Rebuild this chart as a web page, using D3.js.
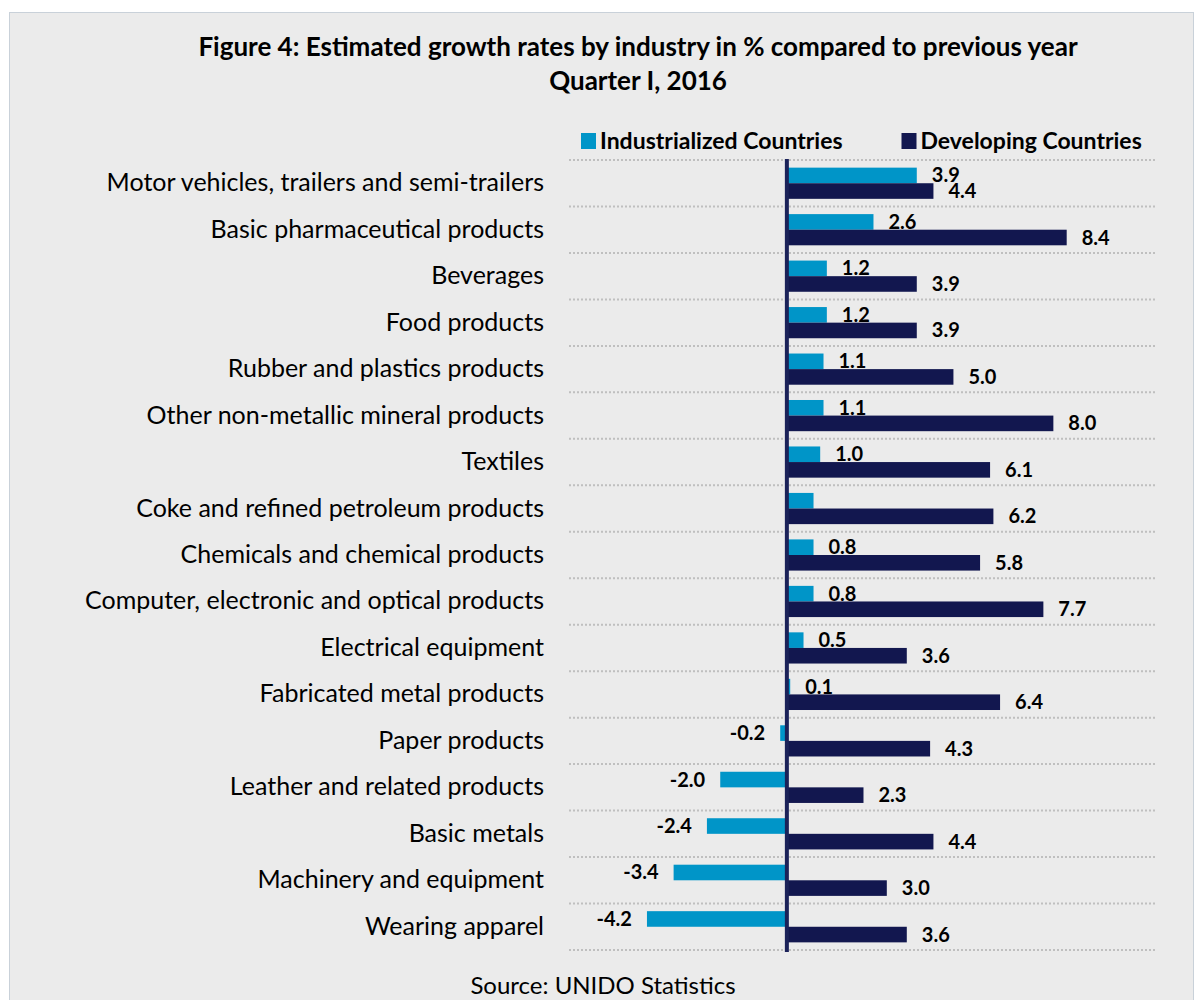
<!DOCTYPE html>
<html>
<head>
<meta charset="utf-8">
<script src="https://cdn.jsdelivr.net/npm/d3@7"></script>
<style>
    body { margin: 0; background: #ffffff; }
</style>
</head>
<body>
<div id="chart"></div>
<script>
let font = "Lato"

// Branchen von oben nach unten
let kategorien = [
    "Motor vehicles, trailers and semi-trailers",
    "Basic pharmaceutical products",
    "Beverages",
    "Food products",
    "Rubber and plastics products",
    "Other non-metallic mineral products",
    "Textiles",
    "Coke and refined petroleum products",
    "Chemicals and chemical products",
    "Computer, electronic and optical products",
    "Electrical equipment",
    "Fabricated metal products",
    "Paper products",
    "Leather and related products",
    "Basic metals",
    "Machinery and equipment ",
    "Wearing apparel"
];

let industrialisiert = [3.9, 2.6, 1.2, 1.2, 1.1, 1.1, 1.0, 0.8, 0.8, 0.8, 0.5, 0.1, -0.2, -2.0, -2.4, -3.4, -4.2];
let entwicklung = [4.4, 8.4, 3.9, 3.9, 5.0, 8.0, 6.1, 6.2, 5.8, 7.7, 3.6, 6.4, 4.3, 2.3, 4.4, 3.0, 3.6];

// im Original fehlt das Label bei Coke (Industrialized)
let ohneLabel = ["Coke and refined petroleum products"];

let serien = ["Industrialized Countries", "Developing Countries"];
let farben = ["#0095c8", "#12174f"];

let titel = [
    "Figure 4: Estimated growth rates by industry in % compared to previous year",
    "Quarter I, 2016"
];
let quelle = "Source: UNIDO Statistics";

function zeichne() {
    let breite = 1203, hoehe = 1000;

    let svg = d3.select("#chart").append("svg")
        .attr("width", breite)
        .attr("height", hoehe);

    // Hintergrund + Rahmen
    svg.append("rect")
        .attr("x", 9.5).attr("y", 12.5)
        .attr("width", 1184).attr("height", 1000)
        .attr("fill", "#ebebeb")
        .attr("stroke", "#c9d1d9")
        .attr("stroke-width", 1);

    // Titel
    svg.selectAll(".titel").data(titel).enter().append("text")
        .attr("class", "titel")
        .attr("x", 638)
        .attr("y", function (d, i) { return 56 + i * 34; })
        .attr("text-anchor", "middle")
        .attr("font-family", font)
        .attr("font-weight", "bold")
        .attr("font-size", "26px")
        .attr("fill", "#000")
        .text(function (d) { return d; });

    // Skalen
    var x = d3.scaleLinear()
        .domain([-6, 11])
        .range([587, 1153.3]);

    var y = d3.scaleBand()
        .domain(kategorien)
        .range([160, 950])
        .padding(0);

    var yInnen = d3.scaleBand()
        .domain(serien)
        .range([0, y.bandwidth()])
        .paddingInner(0)
        .paddingOuter(0.49);

    let farbe = d3.scaleOrdinal().domain(serien).range(farben);

    // gepunktete Linien zwischen den Zeilen
    let linien = kategorien.map(function (d) { return y(d); });
    linien.push(y.range()[1]);
    svg.selectAll(".gitter").data(linien).enter().append("line")
        .attr("class", "gitter")
        .attr("x1", 569).attr("x2", 1155)
        .attr("y1", function (d) { return d; })
        .attr("y2", function (d) { return d; })
        .attr("stroke", "#bfbfbf")
        .attr("stroke-width", 2)
        .attr("stroke-dasharray", "2,2");

    // Daten in lange Liste umbauen
    let liste = [];
    kategorien.forEach(function (k, i) {
        liste.push({ key: k, serie: serien[0], val: industrialisiert[i] });
        liste.push({ key: k, serie: serien[1], val: entwicklung[i] });
    });

    // Balken
    svg.selectAll(".bar").data(liste).enter().append("rect")
        .attr("class", "bar")
        .attr("x", function (d) { return x(Math.min(0, d.val)); })
        .attr("y", function (d) { return y(d.key) + yInnen(d.serie); })
        .attr("width", function (d) { return Math.abs(x(d.val) - x(0)); })
        .attr("height", yInnen.bandwidth())
        .attr("fill", function (d) { return farbe(d.serie); });

    // Nulllinie
    svg.append("line")
        .attr("x1", x(0)).attr("x2", x(0))
        .attr("y1", 159).attr("y2", 952)
        .attr("stroke", "#1b2259")
        .attr("stroke-width", 4);

    // Werte an den Balken (mit normalem Bindestrich wie im Original)
    svg.selectAll(".balkentext")
        .data(liste.filter(function (d) {
            return !(d.serie == serien[0] && ohneLabel.includes(d.key));
        }))
        .enter().append("text")
        .attr("class", "balkentext")
        .attr("x", function (d) { return d.val >= 0 ? x(d.val) + 15 : x(d.val) - 15; })
        .attr("y", function (d) { return y(d.key) + yInnen(d.serie) + yInnen.bandwidth() / 2 + 7; })
        .attr("text-anchor", function (d) { return d.val >= 0 ? "start" : "end"; })
        .attr("font-family", font)
        .attr("font-weight", "bold")
        .attr("font-size", "20px")
        .attr("fill", "#000")
        .text(function (d) { return d.val.toFixed(1); });

    // Kategorien links
    svg.append("g")
        .attr("transform", "translate(544,0)")
        .call(d3.axisLeft(y).tickSize(0).tickPadding(0))
        .call(function (g) { g.select(".domain").remove(); })
        .selectAll("text")
        .attr("font-family", font)
        .attr("font-size", "25px")
        .attr("fill", "#000");

    // Legende
    let legende = svg.selectAll(".legende").data(serien).enter().append("g")
        .attr("class", "legende")
        .attr("transform", function (d, i) { return "translate(" + [581, 901.5][i] + ",133)"; });
    legende.append("rect")
        .attr("width", 15).attr("height", 16)
        .attr("fill", function (d) { return farbe(d); });
    legende.append("text")
        .attr("x", 19).attr("y", 16)
        .attr("font-family", font)
        .attr("font-weight", "bold")
        .attr("font-size", "23px")
        .attr("fill", "#000")
        .text(function (d) { return d; });

    // Quelle
    svg.append("text")
        .attr("x", 603).attr("y", 994)
        .attr("text-anchor", "middle")
        .attr("font-family", font)
        .attr("font-size", "24px")
        .attr("fill", "#000")
        .text(quelle);
}

zeichne();
</script>
</body>
</html>
